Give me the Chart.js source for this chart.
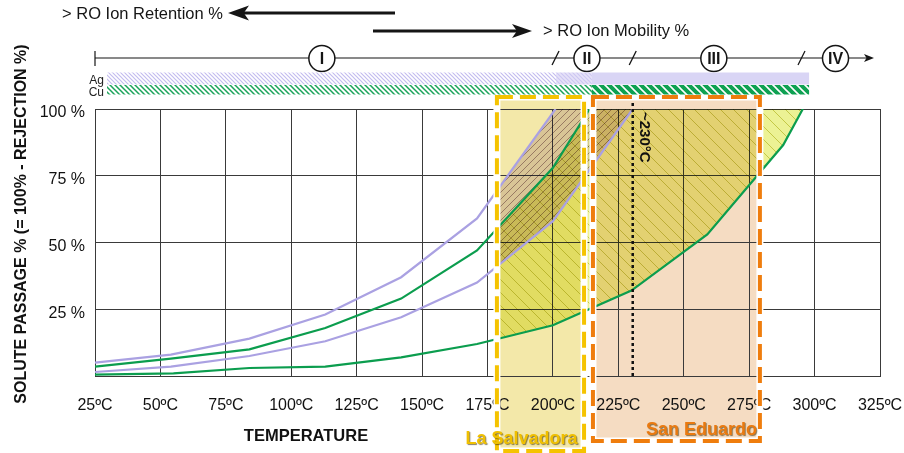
<!DOCTYPE html>
<html><head><meta charset="utf-8">
<script src="https://cdn.jsdelivr.net/npm/chart.js@4.4.0/dist/chart.umd.min.js"></script>
<style>html,body{margin:0;padding:0;background:#fff;}canvas{display:block;}</style>
</head><body>
<canvas id="c" width="904" height="453"></canvas>
<script>
// ---------- data ----------
const TEMP_TICKS = [25,50,75,100,125,150,175,200,225,250,275,300,325];
const PASSAGE_TICKS = [0,25,50,75,100];

const cuLowerT = [25,55,84,113,142,171,200,230,259,288,295.5];
const cuLowerP = [0.5,1,3,3.5,7,12,19,32,53,86.5,100];
const cuUpperT = [25,54,84,113,142,171,200,214];
const cuUpperP = [3.5,6.5,10,18,29,47,78,100];
const agLowerT = [25,54,84,113,142,171,200,230.5];
const agLowerP = [1.5,3.5,7.5,13,22,35,58,100];
const agUpperT = [25,54,84,113,142,171,201];
const agUpperP = [5,8,14,23,37,59,100];

const cuBandTopT = [178.5,200,214,295.5];
const cuBandTopP = [55,78,100,100];
const cuBandBottomT = [178.5,200,230,259,288,295.5];
const cuBandBottomP = [14,19,32,53,86.5,100];
const agBandTopT = [178.5,201,230.5];
const agBandTopP = [69,100,100];
const agBandBottomT = [178.5,200,230.5];
const agBandBottomP = [40.5,58,100];

const laSalvadoraRange = [178.6, 211.9];
const sanEduardoRange = [215.3, 279.1];
const markerTemp = 230.5;
const markerLabel = '~230°C';
const zoneLabels = ['I','II','III','IV'];
const zoneCenters = [111.7, 213, 261.5, 308];
const zoneBreaks = [201, 230.5, 295];
const agSegments = [[29.6,201.2],[201.2,214.9],[214.9,297.9]];
const cuSegments = [[29.6,214.9],[214.9,297.9]];

// ---------- helpers ----------
const FONT = "'Liberation Sans', Arial, Helvetica, sans-serif";
const GREEN = '#0b9d4e', LAV = '#aaa1e2';
const pts = (T,P) => T.map((t,i)=>({x:t,y:P[i]}));
function hatch(size,bg,line,lw,dir){
  const c=document.createElement('canvas'); c.width=size; c.height=size;
  const g=c.getContext('2d');
  if(bg){g.fillStyle=bg;g.fillRect(0,0,size,size);}
  g.strokeStyle=line; g.lineWidth=lw; g.beginPath();
  for(let k=-1;k<=1;k++){
    if(dir==='\\'){g.moveTo(-size,k*size-size);g.lineTo(2*size,k*size+2*size);}
    else {g.moveTo(-size,k*size+2*size);g.lineTo(2*size,k*size-size);}
  }
  g.stroke();
  return g.createPattern(c,'repeat');
}
const greenBandPat = hatch(13,'rgb(236,242,148)','rgb(196,200,70)',1,'\\');
const lavBandPat = hatch(7,'rgb(228,216,226)','rgb(150,125,140)',0.9,'/');
const agHatch = hatch(4,'#ffffff','#c3bcef',1.2,'\\');
const agDense = hatch(4,'#e6e2f8','#cdc6f2',1.2,'\\');
const cuHatch = hatch(5,'#ffffff','#1aa35a',1.5,'\\');
const cuSolid = hatch(8,'#0ea152','#ffffff',1.6,'\\');

function arrowHead(ctx,tipX,y,dir,len,half){
  ctx.beginPath();
  ctx.moveTo(tipX,y);
  ctx.lineTo(tipX-dir*len,y-half);
  ctx.lineTo(tipX-dir*len*0.75,y);
  ctx.lineTo(tipX-dir*len,y+half);
  ctx.closePath(); ctx.fill();
}
function dashedRect(ctx,x1,y1,x2,y2,color){
  ctx.save();
  ctx.lineWidth=7; ctx.strokeStyle='#ffffff'; ctx.setLineDash([]);
  ctx.strokeRect(x1,y1,x2-x1,y2-y1);
  ctx.lineWidth=4; ctx.strokeStyle=color; ctx.setLineDash([16,7]);
  ctx.strokeRect(x1,y1,x2-x1,y2-y1);
  ctx.restore();
}

const deco = {
  id:'deco',
  beforeDraw(chart){
    const {ctx,scales:{x}}=chart;
    ctx.save();
    ctx.fillStyle='#f3e8a9';
    let a=x.getPixelForValue(laSalvadoraRange[0]), b=x.getPixelForValue(laSalvadoraRange[1]);
    ctx.fillRect(a,97,b-a,354);
    ctx.fillStyle='#f5dcc2';
    a=x.getPixelForValue(sanEduardoRange[0]); b=x.getPixelForValue(sanEduardoRange[1]);
    ctx.fillRect(a,97,b-a,344);
    ctx.restore();
  },
  beforeDatasetsDraw(chart){chart.ctx.globalCompositeOperation='multiply';},
  beforeDatasetDraw(chart){chart.ctx.globalCompositeOperation='source-over';},
  afterDatasetDraw(chart){chart.ctx.globalCompositeOperation='multiply';},
  afterDatasetsDraw(chart){
    const {ctx,scales:{x,y},chartArea}=chart;
    ctx.globalCompositeOperation='source-over';
    ctx.save();
    // marker line
    const mx=x.getPixelForValue(markerTemp);
    ctx.strokeStyle='#111'; ctx.lineWidth=2.5; ctx.setLineDash([3,3]);
    ctx.beginPath(); ctx.moveTo(mx,103); ctx.lineTo(mx,chartArea.bottom); ctx.stroke();
    ctx.setLineDash([]);
    ctx.save();
    ctx.translate(mx+11,112); ctx.rotate(Math.PI/2);
    ctx.font='bold 15px '+FONT; ctx.fillStyle='#111'; ctx.textAlign='left'; ctx.textBaseline='middle';
    ctx.fillText(markerLabel,0,0);
    ctx.restore();
    // boxes
    const ya=x.getPixelForValue(laSalvadoraRange[0]), yb=x.getPixelForValue(laSalvadoraRange[1]);
    const oa=x.getPixelForValue(sanEduardoRange[0]), ob=x.getPixelForValue(sanEduardoRange[1]);
    dashedRect(ctx,ya,97,yb,451,'#f5c300');
    dashedRect(ctx,oa,97,ob,441,'#ef7d0d');
    // labels
    ctx.font='bold 18px '+FONT; ctx.textAlign='center'; ctx.textBaseline='middle';
    ctx.shadowColor='rgba(60,45,0,0.6)'; ctx.shadowOffsetX=1; ctx.shadowOffsetY=1; ctx.shadowBlur=1;
    ctx.fillStyle='#f0c000'; ctx.fillText('La Salvadora',(ya+yb)/2-19,439);
    ctx.fillStyle='#ea7a10'; ctx.fillText('San Eduardo',(oa+ob)/2+25,430);
    ctx.restore();
  },
  afterDraw(chart){
    const {ctx,scales:{x}}=chart;
    ctx.save();
    ctx.fillStyle='#151515'; ctx.strokeStyle='#151515';
    // top texts + arrows
    ctx.font='16.5px '+FONT; ctx.textBaseline='middle'; ctx.textAlign='left';
    ctx.fillText('> RO Ion Retention %',62,14);
    ctx.fillText('> RO Ion Mobility %',543,31);
    ctx.lineWidth=3;
    ctx.beginPath(); ctx.moveTo(395,13); ctx.lineTo(240,13); ctx.stroke();
    arrowHead(ctx,228,13,-1,21,7.5);
    ctx.beginPath(); ctx.moveTo(373,31); ctx.lineTo(520,31); ctx.stroke();
    arrowHead(ctx,532,31,1,20,7);
    // zone line
    const x0=x.getPixelForValue(25);
    ctx.lineWidth=1.2;
    ctx.beginPath(); ctx.moveTo(x0,58); ctx.lineTo(868,58); ctx.stroke();
    ctx.beginPath(); ctx.moveTo(x0,51); ctx.lineTo(x0,66); ctx.stroke();
    arrowHead(ctx,874,58,1,10,4);
    ctx.lineWidth=1.3;
    zoneBreaks.forEach(t=>{const px=x.getPixelForValue(t);
      ctx.beginPath(); ctx.moveTo(px-3.5,65); ctx.lineTo(px+3.5,51); ctx.stroke();});
    ctx.font='bold 16px '+FONT; ctx.textAlign='center';
    zoneCenters.forEach((t,i)=>{const px=x.getPixelForValue(t);
      ctx.beginPath(); ctx.arc(px,58.5,13,0,Math.PI*2); ctx.fillStyle='#fff'; ctx.fill();
      ctx.lineWidth=1.5; ctx.stroke();
      ctx.fillStyle='#151515'; ctx.fillText(zoneLabels[i],px,59.5);});
    // Ag / Cu bars
    const agFills=[agHatch,agDense,'#d9d5f5'];
    agSegments.forEach((s,i)=>{const a=x.getPixelForValue(s[0]),b=x.getPixelForValue(s[1]);
      ctx.fillStyle=agFills[i]; ctx.fillRect(a,72.5,b-a,12);});
    const cuFills=[cuHatch,cuSolid];
    cuSegments.forEach((s,i)=>{const a=x.getPixelForValue(s[0]),b=x.getPixelForValue(s[1]);
      ctx.fillStyle=cuFills[i]; ctx.fillRect(a,85,b-a,9.5);});
    ctx.fillStyle='#222'; ctx.font='12px '+FONT; ctx.textAlign='right'; ctx.textBaseline='alphabetic';
    ctx.fillText('Ag',104,83.5); ctx.fillText('Cu',104,95.5);
    // axis titles
    ctx.fillStyle='#111';
    ctx.font='bold 16.5px '+FONT; ctx.textAlign='center'; ctx.textBaseline='middle';
    ctx.fillText('TEMPERATURE',306,436);
    ctx.save(); ctx.translate(22,224); ctx.rotate(-Math.PI/2);
    ctx.font='bold 16px '+FONT;
    ctx.fillText('SOLUTE PASSAGE % (= 100% - REJECTION %)',0,0);
    ctx.restore();
    ctx.restore();
  }
};

const lineDs = (label,T,P,color)=>({label,data:pts(T,P),borderColor:color,borderWidth:2.2,pointRadius:0,fill:false,order:1,tension:0});
const bandDs = (label,T,P,fill,bg,order)=>({label,data:pts(T,P),borderColor:'rgba(0,0,0,0)',borderWidth:1,pointRadius:0,fill,backgroundColor:bg,order,tension:0});

new Chart(document.getElementById('c'),{
  type:'line',
  data:{datasets:[
    lineDs('Cu upper',cuUpperT,cuUpperP,GREEN),
    lineDs('Cu lower',cuLowerT,cuLowerP,GREEN),
    lineDs('Ag upper',agUpperT,agUpperP,LAV),
    lineDs('Ag lower',agLowerT,agLowerP,LAV),
    bandDs('Cu band top',cuBandTopT,cuBandTopP,'+1',greenBandPat,20),
    bandDs('Cu band bottom',cuBandBottomT,cuBandBottomP,false,'rgba(0,0,0,0)',21),
    bandDs('Ag band top',agBandTopT,agBandTopP,'+1',lavBandPat,10),
    bandDs('Ag band bottom',agBandBottomT,agBandBottomP,false,'rgba(0,0,0,0)',11)
  ]},
  options:{
    responsive:false, animation:false, devicePixelRatio:1,
    layout:{padding:{top:109,right:24,left:0,bottom:0}},
    plugins:{legend:{display:false},tooltip:{enabled:false}},
    scales:{
      x:{type:'linear',min:25,max:325,
        afterBuildTicks:s=>{s.ticks=TEMP_TICKS.map(v=>({value:v}));},
        afterFit:s=>{s.height=77; s.paddingLeft=0; s.paddingRight=0;},
        ticks:{callback:v=>v+'ºC',font:{family:FONT,size:16},color:'#111',padding:20,maxRotation:0,autoSkip:false},
        grid:{color:'#3a3a3a',lineWidth:1,drawTicks:false},
        border:{color:'#3a3a3a'}},
      y:{min:0,max:100,
        afterBuildTicks:s=>{s.ticks=PASSAGE_TICKS.map(v=>({value:v}));},
        afterFit:s=>{s.width=95; s.paddingTop=0; s.paddingBottom=0;},
        ticks:{callback:v=>v===0?'':v+' %',font:{family:FONT,size:16},color:'#111',padding:10,labelOffset:4},
        grid:{color:'#3a3a3a',lineWidth:1,drawTicks:false},
        border:{color:'#3a3a3a'}}
    }
  },
  plugins:[deco]
});
</script>
</body></html>
